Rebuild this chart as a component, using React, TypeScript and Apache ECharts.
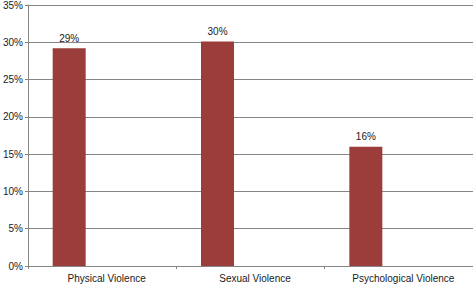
import React, { useEffect, useRef } from "react";
import * as echarts from "echarts";

const categories = ["Physical Violence", "Sexual Violence", "Psychological Violence"];
const values = [29.2, 30.1, 16.0];
const valueLabels = ["29%", "30%", "16%"];
const emptyValues = [null, null, null];

export default function App() {
  const ref = useRef<HTMLDivElement>(null);
  useEffect(() => {
    if (!ref.current) return;
    const chart = echarts.init(ref.current, null, { renderer: "svg" });
    const font = "Liberation Sans, Arial, Helvetica, sans-serif";
    chart.setOption({
      animation: false,
      grid: { left: 27, right: 0, top: 4, bottom: 18, containLabel: false },
      xAxis: {
        type: "category",
        data: categories,
        axisLine: { lineStyle: { color: "#868686", width: 1 } },
        axisTick: { show: true, length: 3, alignWithLabel: false, lineStyle: { color: "#868686" } },
        axisLabel: { color: "#1a1a1a", fontSize: 10, fontFamily: font, margin: 7, padding: [0, 0, 0, 9] },
        splitLine: { show: false },
      },
      yAxis: {
        type: "value",
        min: 0,
        max: 35,
        interval: 5,
        axisLine: { show: true, lineStyle: { color: "#868686", width: 1 } },
        axisTick: { show: true, length: 3, lineStyle: { color: "#868686" } },
        axisLabel: { color: "#1a1a1a", fontSize: 10, fontFamily: font, margin: 5, formatter: "{value}%" },
        splitLine: { show: true, lineStyle: { color: "#868686", width: 1 } },
      },
      series: [
        {
          type: "bar",
          data: values,
          barWidth: 33,
          barGap: 0,
          itemStyle: { color: "#9a3d3b" },
          label: {
            show: true,
            position: "top",
            distance: 5,
            color: "#1a1a1a",
            fontSize: 10,
            fontFamily: font,
            formatter: (p: any) => valueLabels[p.dataIndex],
          },
        },
        { type: "bar", data: emptyValues, barWidth: 33, barGap: 0 },
        { type: "bar", data: emptyValues, barWidth: 33, barGap: 0 },
      ],
    });
    return () => chart.dispose();
  }, []);
  return (
    <div
      ref={ref}
      style={{ position: "absolute", left: 0, top: 0, width: 473, height: 284, background: "#fff" }}
    />
  );
}
